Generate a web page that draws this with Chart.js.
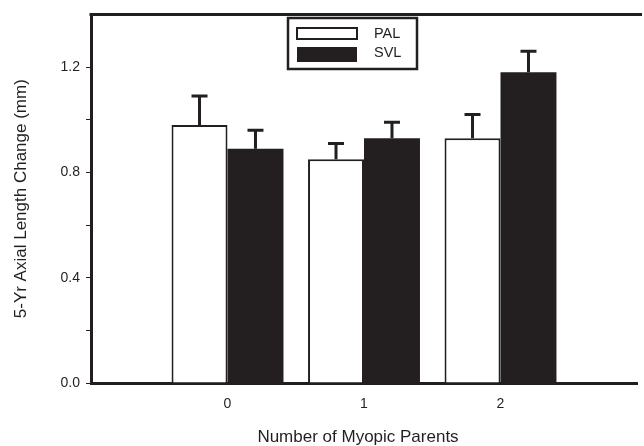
<!DOCTYPE html>
<html>
<head>
<meta charset="utf-8">
<script src="https://cdn.jsdelivr.net/npm/chart.js@4.4.1/dist/chart.umd.min.js"></script>
<style>
html, body { margin: 0; padding: 0; background: #fff; overflow: hidden; }
#wrap { width: 650px; height: 446px; position: relative; }
</style>
</head>
<body>
<div id="wrap"><canvas id="chart"></canvas></div>
<script>
// ------------------------------
// Data
// ------------------------------

const categories = ["0", "1", "2"];
const seriesNames = ["PAL", "SVL"];
const palValues = [0.98, 0.85, 0.93];
const palErrors = [0.11, 0.06, 0.09];
const svlValues = [0.89, 0.93, 1.18];
const svlErrors = [0.07, 0.06, 0.08];
const yTickLabels = [0.0, 0.4, 0.8, 1.2];

const ink = "#231f20";
const fontFamily = "'Liberation Sans', Arial, Helvetica, sans-serif";

// empty slot on each side so the groups sit like the original axis
const labels = ["", ...categories, ""];
const pad = arr => [null, ...arr, null];

// ------------------------------
// Plugins: error bars, frame top, legend box, x title
// ------------------------------

const errorBars = {
  id: "errorBars",
  afterDatasetsDraw(chart) {
    const ctx = chart.ctx;
    const y = chart.scales.y;
    const errs = [pad(palErrors), pad(svlErrors)];
    ctx.save();
    ctx.strokeStyle = ink;
    ctx.lineWidth = 3;
    chart.data.datasets.forEach((ds, i) => {
      chart.getDatasetMeta(i).data.forEach((bar, j) => {
        const v = ds.data[j];
        if (v == null) return;
        const top = y.getPixelForValue(v + errs[i][j]);
        ctx.beginPath();
        ctx.moveTo(bar.x, bar.y);
        ctx.lineTo(bar.x, top);
        ctx.moveTo(bar.x - 8, top);
        ctx.lineTo(bar.x + 8, top);
        ctx.stroke();
      });
    });
    ctx.restore();
  }
};

const frameAndLegend = {
  id: "frameAndLegend",
  afterDraw(chart) {
    const ctx = chart.ctx;
    const a = chart.chartArea;
    ctx.save();

    // top frame line
    ctx.strokeStyle = ink;
    ctx.lineWidth = 3;
    ctx.beginPath();
    ctx.moveTo(a.left - 1.5, a.top);
    ctx.lineTo(a.right + 5, a.top);
    ctx.stroke();

    // legend box
    ctx.lineWidth = 2.5;
    ctx.strokeRect(288, 18, 129, 51);

    const rows = [{y: 28, h: 11, text: 33.5}, {y: 47, h: 15, text: 53}];
    chart.data.datasets.forEach((ds, i) => {
      const r = rows[i];
      ctx.fillStyle = ds.backgroundColor;
      ctx.fillRect(297, r.y, 60, r.h);
      if (ds.borderWidth) {
        ctx.lineWidth = 2;
        ctx.strokeStyle = ink;
        ctx.strokeRect(297, r.y, 60, r.h);
      }
      ctx.fillStyle = ink;
      ctx.font = "14.5px " + fontFamily;
      ctx.textAlign = "left";
      ctx.textBaseline = "middle";
      ctx.fillText(ds.label, 374, r.text);
    });

    // x axis title
    ctx.font = "17px " + fontFamily;
    ctx.textAlign = "center";
    ctx.textBaseline = "alphabetic";
    ctx.fillText("Number of Myopic Parents", 358, 442);

    ctx.restore();
  }
};

// ------------------------------
// Bar Chart
// ------------------------------

const chart = new Chart(

document.getElementById("chart"),

{

type: "bar",

data: {

labels: labels,

datasets: [
{
label: seriesNames[0],
data: pad(palValues),
backgroundColor: "#ffffff",
borderColor: ink,
borderWidth: 2
},
{
label: seriesNames[1],
data: pad(svlValues),
backgroundColor: ink,
borderColor: ink,
borderWidth: 0
}
]

},

options: {

responsive: true,
maintainAspectRatio: false,
animation: false,
events: [],

layout: {
padding: { top: 11, right: 2, bottom: 0, left: 0 }
},

datasets: {
bar: {
categoryPercentage: 0.82,
barPercentage: 1
}
},

plugins: {
legend: { display: false },
tooltip: { enabled: false }
},

scales: {

x: {
offset: false,
grid: { display: false, drawTicks: false },
border: { display: true, color: ink, width: 3 },
ticks: {
color: ink,
padding: 13,
autoSkip: false,
maxRotation: 0,
font: { family: fontFamily, size: 14 }
},
afterFit: scale => { scale.height = 63; }
},

y: {
min: 0,
max: 1.4,
border: { display: true, color: ink, width: 3 },
grid: {
drawOnChartArea: false,
drawTicks: true,
tickLength: 5,
lineWidth: 1,
color: ctx => ctx.tick && ctx.tick.value > 1.3 ? "rgba(0,0,0,0)" : ink
},
ticks: {
stepSize: 0.2,
color: ink,
padding: 6,
font: { family: fontFamily, size: 14 },
callback: v => yTickLabels.some(t => Math.abs(t - v) < 1e-6) ? v.toFixed(1) : ""
},
title: {
display: true,
text: "5-Yr Axial Length Change (mm)",
color: ink,
padding: { top: 13, bottom: 0 },
font: { family: fontFamily, size: 17, lineHeight: 1 }
},
afterFit: scale => { scale.width = 91; }
}

}

},

plugins: [errorBars, frameAndLegend]

});
</script>
</body>
</html>
